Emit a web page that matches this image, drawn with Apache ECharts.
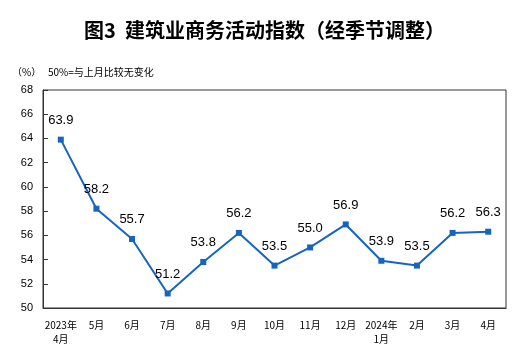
<!DOCTYPE html>
<html><head><meta charset="utf-8">
<script src="https://cdn.jsdelivr.net/npm/echarts@6/dist/echarts.min.js"></script>
<style>html,body{margin:0;padding:0;background:#fff}#c{width:529px;height:357px}</style>
</head><body><div id="c"></div>
<script>
const categories = ["2023年\n4月","5月","6月","7月","8月","9月","10月","11月","12月","2024年\n1月","2月","3月","4月"];
const values = [63.9,58.2,55.7,51.2,53.8,56.2,53.5,55.0,56.9,53.9,53.5,56.2,56.3];
const yTicks = [50,52,54,56,58,60,62,64,66,68];
const titleText = "图3  建筑业商务活动指数（经季节调整）";
const unitText = "（%）";
const noteText = "50%=与上月比较无变化";

const chart = echarts.init(document.getElementById('c'));
chart.setOption({
  animation:false,
  title:{text:titleText,left:'center',top:15,textStyle:{fontFamily:'Noto Sans CJK SC',fontSize:20,fontWeight:'bold',color:'#000'}},
  graphic:[
    {type:'text',left:12,top:67,style:{text:unitText,font:'10px "Noto Sans CJK SC"',fill:'#000'}},
    {type:'text',left:48,top:67,style:{text:noteText,font:'10px "Noto Sans CJK SC"',fill:'#000'}}
  ],
  grid:{left:43,right:23,top:90,bottom:49,show:true,borderColor:'#333',borderWidth:1},
  xAxis:{type:'category',data:categories,boundaryGap:true,
    axisLine:{lineStyle:{color:'#333'}},
    axisTick:{inside:true,length:5,lineStyle:{color:'#333'}},
    axisLabel:{color:'#000',fontSize:10,fontFamily:'Noto Sans CJK SC',margin:10,lineHeight:14,interval:0}},
  yAxis:{type:'value',min:yTicks[0],max:yTicks[yTicks.length-1],interval:2,
    axisLine:{show:true,lineStyle:{color:'#333'}},
    axisTick:{show:true,inside:true,length:5,lineStyle:{color:'#333'}},
    splitLine:{show:false},
    axisLabel:{color:'#000',fontSize:11,fontFamily:'Arial, Liberation Sans',margin:10}},
  series:[{type:'line',data:values,symbol:'rect',symbolSize:6,
    lineStyle:{color:'#1565C0',width:2},itemStyle:{color:'#1565C0'},
    label:{show:true,position:'top',distance:10,color:'#000',fontSize:13,fontFamily:'Arial, Liberation Sans',
      formatter:p=>p.value.toFixed(1)}}]
});
</script></body></html>
